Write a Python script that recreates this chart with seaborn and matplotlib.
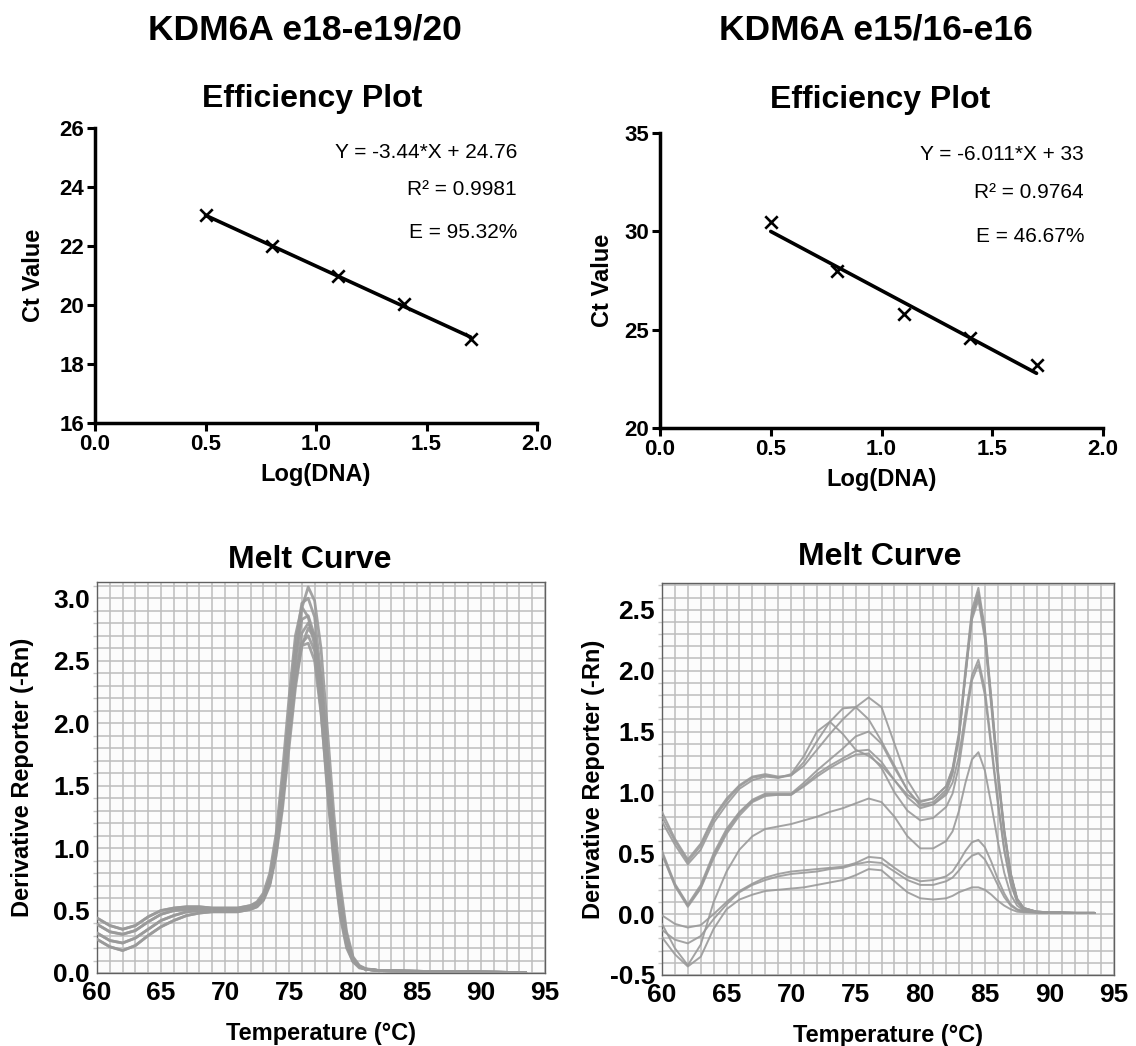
import numpy as np
import pandas as pd
import matplotlib
matplotlib.use("Agg")
import matplotlib.pyplot as plt
from matplotlib.ticker import MultipleLocator
import seaborn as sns

sns.set_theme(style="white")
plt.rcParams["font.family"] = ["Liberation Sans", "DejaVu Sans"]
plt.rcParams.update({"text.color": "black", "axes.labelcolor": "black",
                     "xtick.color": "black", "ytick.color": "black"})

# ---------------- standard curves (efficiency) ----------------
log_dna = [0.5, 0.8, 1.1, 1.4, 1.7]
ct_e18 = [23.05, 22.0, 20.98, 20.05, 18.85]
ct_e15 = [30.5, 28.0, 25.8, 24.6, 23.2]
slope_e18, intercept_e18 = -3.44, 24.76
slope_e15, intercept_e15 = -6.011, 33.0
stats_e18 = ["Y = -3.44*X + 24.76", "R\u00b2 = 0.9981", "E = 95.32%"]
stats_e15 = ["Y = -6.011*X + 33", "R\u00b2 = 0.9764", "E = 46.67%"]

# ---------------- melt curves: e18-e19/20 ----------------
temp_a = [60, 61, 62, 63, 64, 65, 66, 67, 68, 69, 70, 71, 72, 72.5, 73, 73.5, 74, 74.5,
          75, 75.5, 76, 76.5, 77, 77.5, 78, 78.5, 79, 79.5, 80, 80.5, 81, 82, 84, 86,
          88, 90, 92, 93.5]
melt_a1 = [0.44, 0.38, 0.35, 0.38, 0.45, 0.50, 0.52, 0.53, 0.53, 0.52, 0.52, 0.52, 0.54, 0.56,
           0.60, 0.72, 0.98, 1.40, 1.95, 2.50, 2.92, 3.09, 2.98, 2.60, 1.95, 1.28, 0.72, 0.33,
           0.13, 0.06, 0.035, 0.02, 0.015, 0.012, 0.010, 0.008, 0.005, 0.003]
melt_a2 = [0.44, 0.38, 0.35, 0.38, 0.45, 0.50, 0.52, 0.53, 0.53, 0.52, 0.52, 0.52, 0.54, 0.57,
           0.64, 0.80, 1.12, 1.62, 2.20, 2.70, 2.93, 2.85, 2.62, 2.10, 1.45, 0.88, 0.45, 0.20,
           0.09, 0.05, 0.03, 0.02, 0.015, 0.012, 0.010, 0.008, 0.005, 0.003]
melt_a3 = [0.39, 0.33, 0.31, 0.34, 0.41, 0.47, 0.50, 0.51, 0.51, 0.51, 0.51, 0.51, 0.53, 0.56,
           0.62, 0.76, 1.05, 1.52, 2.08, 2.62, 2.96, 3.00, 2.85, 2.38, 1.72, 1.08, 0.58, 0.26,
           0.11, 0.05, 0.03, 0.02, 0.015, 0.012, 0.010, 0.008, 0.005, 0.003]
melt_a4 = [0.39, 0.33, 0.31, 0.34, 0.41, 0.47, 0.50, 0.51, 0.51, 0.51, 0.51, 0.51, 0.53, 0.55,
           0.60, 0.72, 0.98, 1.38, 1.90, 2.38, 2.72, 2.80, 2.70, 2.32, 1.70, 1.08, 0.58, 0.27,
           0.11, 0.05, 0.03, 0.02, 0.015, 0.012, 0.010, 0.008, 0.005, 0.003]
melt_a5 = [0.32, 0.26, 0.24, 0.28, 0.35, 0.42, 0.46, 0.49, 0.50, 0.50, 0.50, 0.50, 0.52, 0.54,
           0.60, 0.74, 1.02, 1.46, 2.00, 2.52, 2.83, 2.86, 2.70, 2.24, 1.60, 0.98, 0.52, 0.24,
           0.10, 0.05, 0.03, 0.02, 0.015, 0.012, 0.010, 0.008, 0.005, 0.003]
melt_a6 = [0.32, 0.26, 0.24, 0.28, 0.35, 0.42, 0.46, 0.49, 0.50, 0.50, 0.50, 0.50, 0.52, 0.54,
           0.59, 0.72, 0.98, 1.38, 1.88, 2.34, 2.64, 2.70, 2.58, 2.16, 1.58, 0.98, 0.54, 0.25,
           0.10, 0.05, 0.03, 0.02, 0.015, 0.012, 0.010, 0.008, 0.005, 0.003]
melt_a7 = [0.27, 0.21, 0.18, 0.22, 0.30, 0.37, 0.42, 0.46, 0.48, 0.49, 0.49, 0.49, 0.51, 0.53,
           0.58, 0.70, 0.94, 1.32, 1.80, 2.28, 2.62, 2.76, 2.68, 2.34, 1.75, 1.15, 0.64, 0.30,
           0.12, 0.05, 0.03, 0.02, 0.015, 0.012, 0.010, 0.008, 0.005, 0.003]
melt_a8 = [0.27, 0.21, 0.18, 0.22, 0.30, 0.37, 0.42, 0.46, 0.48, 0.49, 0.49, 0.49, 0.51, 0.53,
           0.59, 0.72, 0.98, 1.40, 1.90, 2.35, 2.62, 2.64, 2.50, 2.08, 1.50, 0.92, 0.48, 0.22,
           0.09, 0.04, 0.03, 0.02, 0.015, 0.012, 0.010, 0.008, 0.005, 0.003]

# ---------------- melt curves: e15/16-e16 ----------------
temp_b = [60, 61, 62, 63, 64, 65, 66, 67, 68, 69, 70, 71, 72, 73, 74, 75, 76, 77, 78, 79,
          80, 81, 82, 82.5, 83, 83.5, 84, 84.5, 85, 85.5, 86, 86.5, 87, 87.5, 88, 89, 90,
          92, 93.5]
melt_b1 = [0.84, 0.62, 0.45, 0.58, 0.80, 0.95, 1.06, 1.13, 1.15, 1.13, 1.14, 1.22, 1.35, 1.48,
           1.60, 1.70, 1.78, 1.70, 1.40, 1.10, 0.93, 0.95, 1.05, 1.20, 1.50, 2.02, 2.50, 2.68,
           2.35, 1.78, 1.20, 0.70, 0.34, 0.13, 0.05, 0.02, 0.015, 0.01, 0.01]
melt_b2 = [0.80, 0.60, 0.43, 0.56, 0.78, 0.93, 1.05, 1.12, 1.14, 1.12, 1.14, 1.25, 1.42, 1.58,
           1.69, 1.70, 1.60, 1.42, 1.22, 1.02, 0.90, 0.92, 1.02, 1.17, 1.46, 1.97, 2.45, 2.62,
           2.30, 1.74, 1.17, 0.68, 0.33, 0.12, 0.05, 0.02, 0.015, 0.01, 0.01]
melt_b3 = [0.76, 0.57, 0.41, 0.53, 0.75, 0.90, 1.03, 1.10, 1.13, 1.12, 1.15, 1.30, 1.50, 1.58,
           1.48, 1.35, 1.30, 1.22, 1.10, 0.98, 0.92, 0.95, 1.05, 1.19, 1.47, 1.96, 2.42, 2.58,
           2.26, 1.70, 1.14, 0.66, 0.32, 0.12, 0.05, 0.02, 0.015, 0.01, 0.01]
melt_b4 = [0.52, 0.25, 0.08, 0.24, 0.50, 0.70, 0.84, 0.94, 0.99, 0.99, 0.99, 1.08, 1.18, 1.27,
           1.36, 1.46, 1.50, 1.40, 1.20, 1.02, 0.89, 0.90, 0.98, 1.08, 1.30, 1.65, 1.96, 2.09,
           1.85, 1.40, 0.94, 0.54, 0.26, 0.10, 0.04, 0.02, 0.015, 0.01, 0.01]
melt_b5 = [0.50, 0.24, 0.07, 0.22, 0.48, 0.68, 0.83, 0.93, 0.98, 0.98, 0.98, 1.06, 1.15, 1.22,
           1.28, 1.34, 1.35, 1.25, 1.10, 0.96, 0.87, 0.90, 1.00, 1.15, 1.45, 1.97, 2.46, 2.64,
           2.32, 1.76, 1.18, 0.68, 0.33, 0.12, 0.05, 0.02, 0.015, 0.01, 0.01]
melt_b6 = [0.49, 0.23, 0.06, 0.21, 0.46, 0.66, 0.81, 0.92, 0.97, 0.98, 0.98, 1.05, 1.13, 1.20,
           1.26, 1.31, 1.32, 1.20, 1.00, 0.85, 0.77, 0.79, 0.88, 0.99, 1.22, 1.58, 1.92, 2.05,
           1.80, 1.36, 0.91, 0.52, 0.25, 0.10, 0.04, 0.02, 0.015, 0.01, 0.01]
melt_b7 = [-0.08, -0.28, -0.42, -0.25, 0.10, 0.35, 0.53, 0.64, 0.70, 0.72, 0.74, 0.77, 0.80,
           0.84, 0.87, 0.91, 0.95, 0.92, 0.80, 0.64, 0.54, 0.54, 0.60, 0.68, 0.85, 1.08, 1.27,
           1.33, 1.18, 0.90, 0.60, 0.34, 0.16, 0.07, 0.03, 0.015, 0.01, 0.01, 0.01]
melt_b8 = [-0.01, -0.08, -0.11, -0.09, 0.00, 0.10, 0.19, 0.25, 0.30, 0.33, 0.35, 0.36, 0.37,
           0.38, 0.39, 0.42, 0.47, 0.46, 0.38, 0.31, 0.27, 0.28, 0.31, 0.35, 0.43, 0.52, 0.59,
           0.61, 0.55, 0.43, 0.29, 0.17, 0.08, 0.04, 0.025, 0.015, 0.01, 0.01, 0.01]
melt_b9 = [-0.13, -0.21, -0.24, -0.18, -0.04, 0.08, 0.18, 0.24, 0.28, 0.31, 0.33, 0.34, 0.35,
           0.37, 0.38, 0.41, 0.43, 0.42, 0.35, 0.28, 0.24, 0.24, 0.27, 0.30, 0.36, 0.43, 0.48,
           0.50, 0.45, 0.35, 0.24, 0.14, 0.07, 0.035, 0.02, 0.015, 0.01, 0.01, 0.01]
melt_b10 = [-0.19, -0.33, -0.43, -0.35, -0.12, 0.04, 0.12, 0.16, 0.19, 0.20, 0.21, 0.22, 0.24,
            0.26, 0.28, 0.32, 0.37, 0.36, 0.27, 0.18, 0.13, 0.12, 0.13, 0.15, 0.18, 0.20, 0.22,
            0.22, 0.20, 0.16, 0.11, 0.07, 0.04, 0.02, 0.015, 0.01, 0.01, 0.01, 0.01]

melt_e18 = [melt_a1, melt_a2, melt_a3, melt_a4, melt_a5, melt_a6, melt_a7, melt_a8]
melt_e15 = [melt_b1, melt_b2, melt_b3, melt_b4, melt_b5, melt_b6, melt_b7, melt_b8,
            melt_b9, melt_b10]


def long_form(temps, curves):
    frames = [pd.DataFrame({"temp": temps, "deriv": c, "well": i})
              for i, c in enumerate(curves)]
    return pd.concat(frames, ignore_index=True)


W, H = 1136, 1046
fig = plt.figure(figsize=(W / 100, H / 100), dpi=100)
fig.patch.set_facecolor("white")


def rect(l, t, r, b):
    return [l / W, 1 - b / H, (r - l) / W, (b - t) / H]


def px(x, y):
    return x / W, 1 - y / H


def bold_ticks(ax, size):
    for lbl in ax.get_xticklabels() + ax.get_yticklabels():
        lbl.set_fontweight("bold")
        lbl.set_fontsize(size)


# ---------------- efficiency panels ----------------
def efficiency(ax, ct, slope, intercept, ylim, ystep, stats, stats_right, stats_y, ylab_x):
    df = pd.DataFrame({"log_dna": log_dna, "ct": ct})
    fit = pd.DataFrame({"log_dna": [log_dna[0], log_dna[-1]],
                        "ct": [slope * log_dna[0] + intercept,
                               slope * log_dna[-1] + intercept]})
    sns.lineplot(data=fit, x="log_dna", y="ct", ax=ax, color="black", lw=2.6)
    sns.scatterplot(data=df, x="log_dna", y="ct", ax=ax, marker="x", s=80,
                    color="black", linewidth=1.9, zorder=3)
    ax.set_xlim(0, 2)
    ax.set_ylim(*ylim)
    ax.xaxis.set_major_locator(MultipleLocator(0.5))
    ax.yaxis.set_major_locator(MultipleLocator(ystep))
    ax.xaxis.set_major_formatter(plt.FormatStrFormatter("%.1f"))
    for s in ["top", "right"]:
        ax.spines[s].set_visible(False)
    for s in ["left", "bottom"]:
        ax.spines[s].set_linewidth(2.5)
        ax.spines[s].set_color("black")
    ax.tick_params(axis="both", direction="out", length=6, width=2.2, color="black",
                   left=True, bottom=True, pad=2)
    bold_ticks(ax, 16)
    ax.set_xlabel("Log(DNA)", fontsize=17, fontweight="bold", labelpad=6)
    ax.set_ylabel("Ct Value", fontsize=17, fontweight="bold")
    ax.yaxis.set_label_coords(ylab_x, 0.5)
    for txt, yy in zip(stats, stats_y):
        fig.text(*px(stats_right, yy), txt, ha="right", va="center", fontsize=15)


ax1 = fig.add_axes(rect(95, 128, 537, 423))
efficiency(ax1, ct_e18, slope_e18, intercept_e18, (16, 26), 2, stats_e18, 517,
           [152, 190, 233], -0.113)
ax2 = fig.add_axes(rect(660, 133, 1103, 428))
efficiency(ax2, ct_e15, slope_e15, intercept_e15, (20, 35), 5, stats_e15, 1084,
           [155, 193, 237], -0.104)

for (cx, cy), txt, size in [((305, 30), "KDM6A e18-e19/20", 25.5),
                            ((876, 30), "KDM6A e15/16-e16", 25.5),
                            ((312, 99), "Efficiency Plot", 23),
                            ((880, 100), "Efficiency Plot", 23),
                            ((310, 560), "Melt Curve", 23),
                            ((880, 557), "Melt Curve", 23)]:
    fig.text(*px(cx, cy), txt, ha="center", va="center", fontsize=size,
             fontweight="bold")


# ---------------- melt curve panels ----------------
def melt(ax, temps, curves, ylim, lw):
    ax.set_facecolor("#fcfcfc")
    df = long_form(temps, curves)
    sns.lineplot(data=df, x="temp", y="deriv", units="well", estimator=None, ax=ax,
                 color="#9a9a9a", lw=lw, alpha=0.9, zorder=3)
    ax.set_xlim(60, 95)
    ax.set_ylim(*ylim)
    ax.xaxis.set_major_locator(MultipleLocator(5))
    ax.xaxis.set_minor_locator(MultipleLocator(1))
    ax.yaxis.set_major_locator(MultipleLocator(0.5))
    ax.yaxis.set_minor_locator(MultipleLocator(0.1))
    ax.yaxis.set_major_formatter(plt.FormatStrFormatter("%.1f"))
    ax.grid(True, which="both", color="#bdbdbd", lw=1.1, zorder=0)
    ax.set_axisbelow(True)
    for s in ax.spines.values():
        s.set_color("#606060")
        s.set_linewidth(1.0)
    ax.tick_params(axis="x", which="both", length=0, pad=6)
    ax.tick_params(axis="y", which="major", length=0, pad=5)
    ax.tick_params(axis="y", which="minor", length=3, color="#c8c8c8", left=True)
    bold_ticks(ax, 19)
    ax.set_xlabel("Temperature (\u00b0C)", fontsize=17, fontweight="bold", labelpad=12)
    ax.set_ylabel("Derivative Reporter (-Rn)", fontsize=17, fontweight="bold")


ax3 = fig.add_axes(rect(97, 582, 545, 973))
melt(ax3, temp_a, melt_e18, (0, 3.13), 2.0)
ax3.yaxis.set_label_coords(-0.14, 0.5)
ax4 = fig.add_axes(rect(662, 583, 1114, 975))
melt(ax4, temp_b, melt_e15, (-0.5, 2.72), 1.4)
ax4.yaxis.set_label_coords(-0.126, 0.5)

fig.savefig("out.png", dpi=100, facecolor="white")
